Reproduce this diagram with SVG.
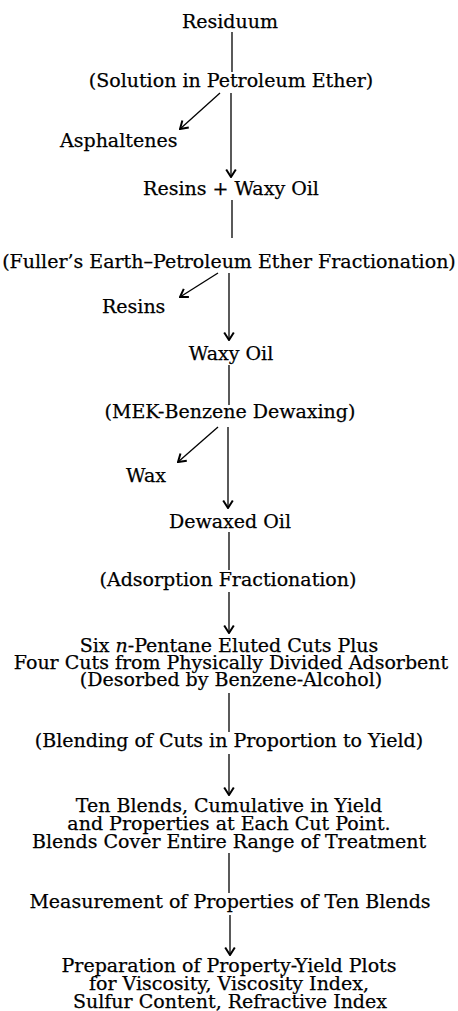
<svg xmlns="http://www.w3.org/2000/svg" width="458" height="1011" viewBox="0 0 458 1011">
<style>
text{font-family:"DejaVu Serif","Liberation Serif",serif;font-size:19px;fill:#000;stroke:#000;stroke-width:0.25;}
.c{text-anchor:middle;}
.cn line{stroke:#000;stroke-width:1.3;fill:none;}
.a{marker-end:url(#ah);}
</style>
<defs>
<marker id="ah" viewBox="-10 -6 11 12" refX="0" refY="0" markerWidth="11" markerHeight="12" orient="auto" markerUnits="userSpaceOnUse">
<path d="M-7.5,-4.8 L0,0 L-7.5,4.8" fill="none" stroke="#000" stroke-width="2" stroke-linejoin="miter"/>
</marker>
</defs>
<rect width="458" height="1011" fill="#fff"/>
<g class="cn" id="connectors">
<line x1="232" y1="32" x2="232" y2="72"/>
<line class="a" x1="231" y1="93" x2="231" y2="177"/>
<line class="a" x1="220" y1="93" x2="180" y2="129"/>
<line x1="232" y1="200" x2="232" y2="238"/>
<line class="a" x1="218" y1="273" x2="180" y2="297"/>
<line class="a" x1="229" y1="273" x2="229" y2="340"/>
<line x1="229" y1="365" x2="229" y2="405"/>
<line class="a" x1="218" y1="427" x2="178" y2="462"/>
<line class="a" x1="228" y1="427" x2="228" y2="508"/>
<line x1="229" y1="532" x2="229" y2="570"/>
<line class="a" x1="229" y1="592" x2="229" y2="633"/>
<line x1="229" y1="693" x2="229" y2="732"/>
<line class="a" x1="229" y1="754" x2="229" y2="795"/>
<line x1="229" y1="853" x2="229" y2="893"/>
<line class="a" x1="230" y1="915" x2="230" y2="955"/>
</g>
<g id="residuum"><text class="c" x="230" y="28">Residuum</text></g>
<g id="solution"><text class="c" x="231" y="87">(Solution in Petroleum Ether)</text></g>
<g id="asphaltenes"><text x="60" y="147">Asphaltenes</text></g>
<g id="resins-waxy-oil"><text class="c" x="231" y="195">Resins + Waxy Oil</text></g>
<g id="fullers"><text class="c" x="229" y="268">(Fuller’s Earth–Petroleum Ether Fractionation)</text></g>
<g id="resins"><text x="102" y="313">Resins</text></g>
<g id="waxy-oil"><text class="c" x="231" y="360">Waxy Oil</text></g>
<g id="mek"><text class="c" x="230" y="418">(MEK-Benzene Dewaxing)</text></g>
<g id="wax"><text x="126" y="482">Wax</text></g>
<g id="dewaxed-oil"><text class="c" x="230" y="528">Dewaxed Oil</text></g>
<g id="adsorption"><text class="c" x="228" y="586">(Adsorption Fractionation)</text></g>
<g id="cuts">
<text class="c" x="229" y="652">Six <tspan font-style="italic">n</tspan>-Pentane Eluted Cuts Plus</text>
<text class="c" x="231" y="669">Four Cuts from Physically Divided Adsorbent</text>
<text class="c" x="231" y="686">(Desorbed by Benzene-Alcohol)</text>
</g>
<g id="blending"><text class="c" x="229" y="747">(Blending of Cuts in Proportion to Yield)</text></g>
<g id="ten-blends">
<text class="c" x="229" y="812">Ten Blends, Cumulative in Yield</text>
<text class="c" x="229" y="830">and Properties at Each Cut Point.</text>
<text class="c" x="229" y="848">Blends Cover Entire Range of Treatment</text>
</g>
<g id="measurement"><text class="c" x="230" y="908">Measurement of Properties of Ten Blends</text></g>
<g id="preparation">
<text class="c" x="229" y="972">Preparation of Property-Yield Plots</text>
<text class="c" x="229" y="990">for Viscosity, Viscosity Index,</text>
<text class="c" x="230" y="1008">Sulfur Content, Refractive Index</text>
</g>
</svg>
